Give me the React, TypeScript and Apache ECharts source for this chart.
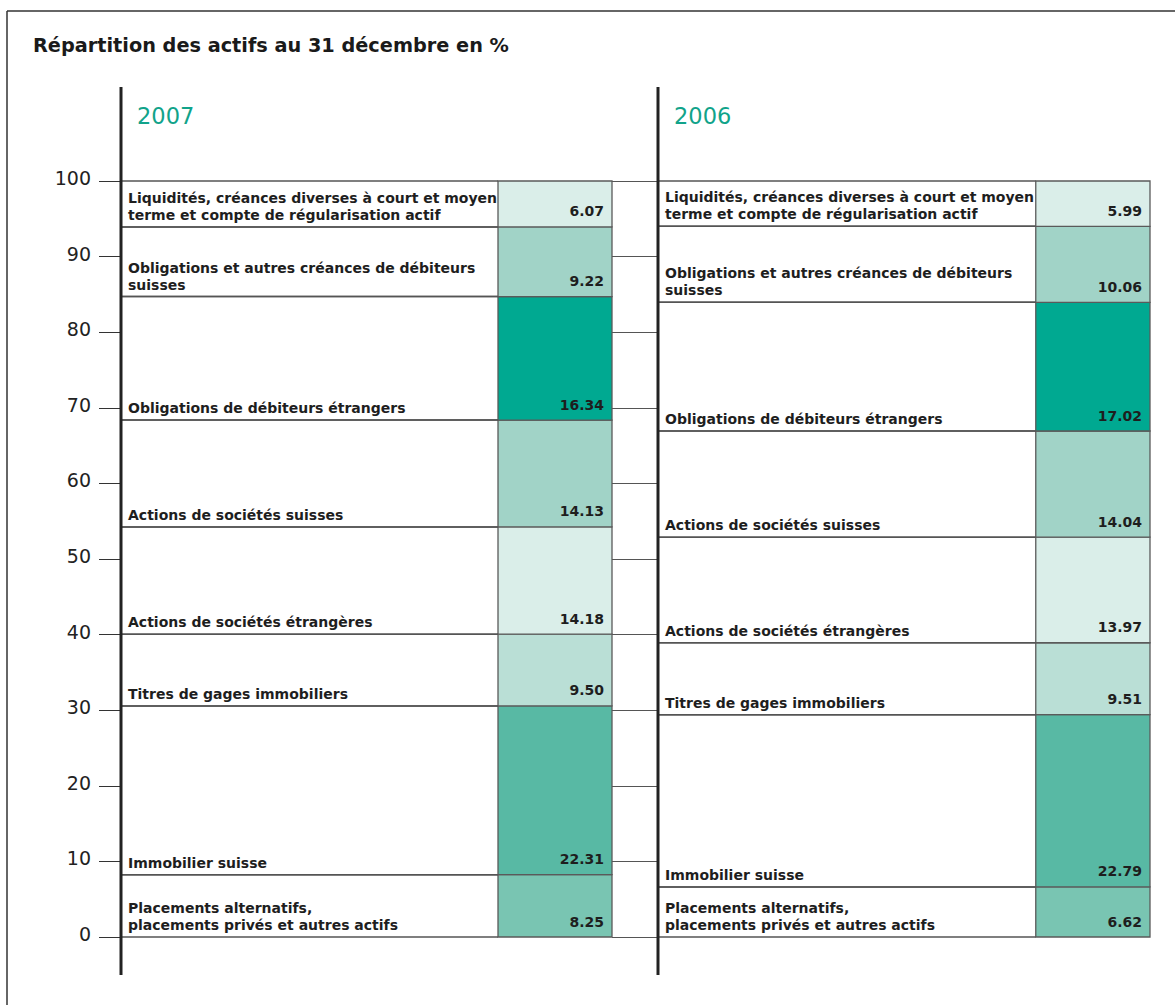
import React, { useEffect, useRef } from "react";
import * as echarts from "echarts";

// ---- data ----
const categories = [
  "Placements alternatifs,\nplacements privés et autres actifs",
  "Immobilier suisse",
  "Titres de gages immobiliers",
  "Actions de sociétés étrangères",
  "Actions de sociétés suisses",
  "Obligations de débiteurs étrangers",
  "Obligations et autres créances de débiteurs\nsuisses",
  "Liquidités, créances diverses à court et moyen\nterme et compte de régularisation actif",
];
const values2007 = [8.25, 22.31, 9.5, 14.18, 14.13, 16.34, 9.22, 6.07];
const values2006 = [6.62, 22.79, 9.51, 13.97, 14.04, 17.02, 10.06, 5.99];
const years = ["2007", "2006"];
const colors = [
  "#79c5b2",
  "#58b9a4",
  "#badfd6",
  "#daeee9",
  "#a1d3c7",
  "#00a991",
  "#a1d3c7",
  "#daeee9",
];
const title = "Répartition des actifs au 31 décembre en %";

// ---- layout ----
const FONT = "DejaVu Sans";
const TOP = 181;
const H = 756;
const SPLIT = 377 / 491;

function stackData(year: string, vals: number[]) {
  let acc = 0;
  return vals.map((v, i) => {
    const b = acc;
    acc += v;
    return [year, b, acc, v, i];
  });
}

function renderItem(params: any, api: any) {
  const cat = api.value(0);
  const bottom = api.value(1);
  const top = api.value(2);
  const val = api.value(3);
  const i = api.value(4);
  const pB = api.coord([cat, bottom]);
  const pT = api.coord([cat, top]);
  const bw = api.size([1, 0])[0];
  const xL = pB[0] - bw / 2;
  const xR = xL + bw;
  const xB = xL + bw * SPLIT;
  const y0 = pB[1];
  const y1 = pT[1];
  return {
    type: "group",
    children: [
      {
        type: "rect",
        shape: { x: xB, y: y1, width: xR - xB, height: y0 - y1 },
        style: { fill: colors[i], stroke: "#5a5a5a", lineWidth: 1.3 },
      },
      {
        type: "line",
        shape: { x1: xL, y1: y1, x2: xB, y2: y1 },
        style: { stroke: "#555", lineWidth: 1.5 },
      },
      {
        type: "line",
        shape: { x1: xL, y1: y0, x2: xB, y2: y0 },
        style: { stroke: "#555", lineWidth: 1.5 },
      },
      {
        type: "text",
        style: {
          text: categories[i],
          x: xL + 7,
          y: y0 - 3.5,
          align: "left",
          verticalAlign: "bottom",
          lineHeight: 17,
          fontFamily: FONT,
          fontWeight: "bold",
          fontSize: 14,
          fill: "#1e1e1e",
        },
      },
      {
        type: "text",
        style: {
          text: Number(val).toFixed(2),
          x: xR - 8,
          y: y0 - 7,
          align: "right",
          verticalAlign: "bottom",
          lineHeight: 17,
          fontFamily: FONT,
          fontWeight: "bold",
          fontSize: 14,
          fill: "#1e1e1e",
        },
      },
    ],
  };
}

export default function App() {
  const ref = useRef<HTMLDivElement>(null);
  useEffect(() => {
    if (!ref.current) return;
    const chart = echarts.init(ref.current, null, { renderer: "svg" });
    const yBase = { type: "value", min: 0, max: 100, interval: 10 };
    chart.setOption({
      animation: false,
      backgroundColor: "#ffffff",
      grid: [
        { left: 121, top: TOP, width: 491, height: H },
        { left: 658, top: TOP, width: 492, height: H },
        { left: 612, top: TOP, width: 46, height: H },
      ],
      xAxis: [
        { type: "category", gridIndex: 0, data: [years[0]], show: false },
        { type: "category", gridIndex: 1, data: [years[1]], show: false },
        { type: "category", gridIndex: 2, data: [""], show: false },
      ],
      yAxis: [
        {
          ...yBase,
          gridIndex: 0,
          axisLine: { show: false },
          axisTick: { show: true, length: 22, lineStyle: { color: "#333", width: 1 } },
          axisLabel: {
            margin: 30,
            fontSize: 19,
            fontFamily: FONT,
            color: "#222",
            verticalAlign: "bottom",
            lineHeight: 6,
          },
          splitLine: { show: false },
        },
        {
          ...yBase,
          gridIndex: 1,
          axisLine: { show: false },
          axisTick: { show: false },
          axisLabel: { show: false },
          splitLine: { show: false },
        },
        {
          ...yBase,
          gridIndex: 2,
          axisLine: { show: false },
          axisTick: { show: false },
          axisLabel: { show: false },
          splitLine: { show: true, lineStyle: { color: "#555", width: 1.2 } },
        },
      ],
      series: [
        {
          type: "custom",
          xAxisIndex: 0,
          yAxisIndex: 0,
          renderItem,
          data: stackData(years[0], values2007),
          clip: false,
        },
        {
          type: "custom",
          xAxisIndex: 1,
          yAxisIndex: 1,
          renderItem,
          data: stackData(years[1], values2006),
          clip: false,
        },
      ],
      graphic: [
        { type: "line", shape: { x1: 7, y1: 11, x2: 1175, y2: 11 }, style: { stroke: "#333", lineWidth: 1.5 } },
        { type: "line", shape: { x1: 7, y1: 11, x2: 7, y2: 1005 }, style: { stroke: "#333", lineWidth: 1.5 } },
        { type: "line", shape: { x1: 121, y1: 87, x2: 121, y2: 975 }, style: { stroke: "#222", lineWidth: 3 }, z: 10 },
        { type: "line", shape: { x1: 658, y1: 87, x2: 658, y2: 975 }, style: { stroke: "#222", lineWidth: 3 }, z: 10 },
        {
          type: "text",
          x: 33,
          y: 45,
          style: {
            text: title,
            fontFamily: FONT,
            fontWeight: "bold",
            fontSize: 19.3,
            fill: "#1a1a1a",
            verticalAlign: "middle",
          },
        },
        {
          type: "text",
          x: 137,
          y: 116,
          style: { text: years[0], fontFamily: FONT, fontSize: 22.5, fill: "#11a38a", verticalAlign: "middle" },
        },
        {
          type: "text",
          x: 674,
          y: 116,
          style: { text: years[1], fontFamily: FONT, fontSize: 22.5, fill: "#11a38a", verticalAlign: "middle" },
        },
      ],
    });
    return () => chart.dispose();
  }, []);
  return (
    <div
      ref={ref}
      style={{ position: "absolute", left: 0, top: 0, width: 1175, height: 1005 }}
    />
  );
}
